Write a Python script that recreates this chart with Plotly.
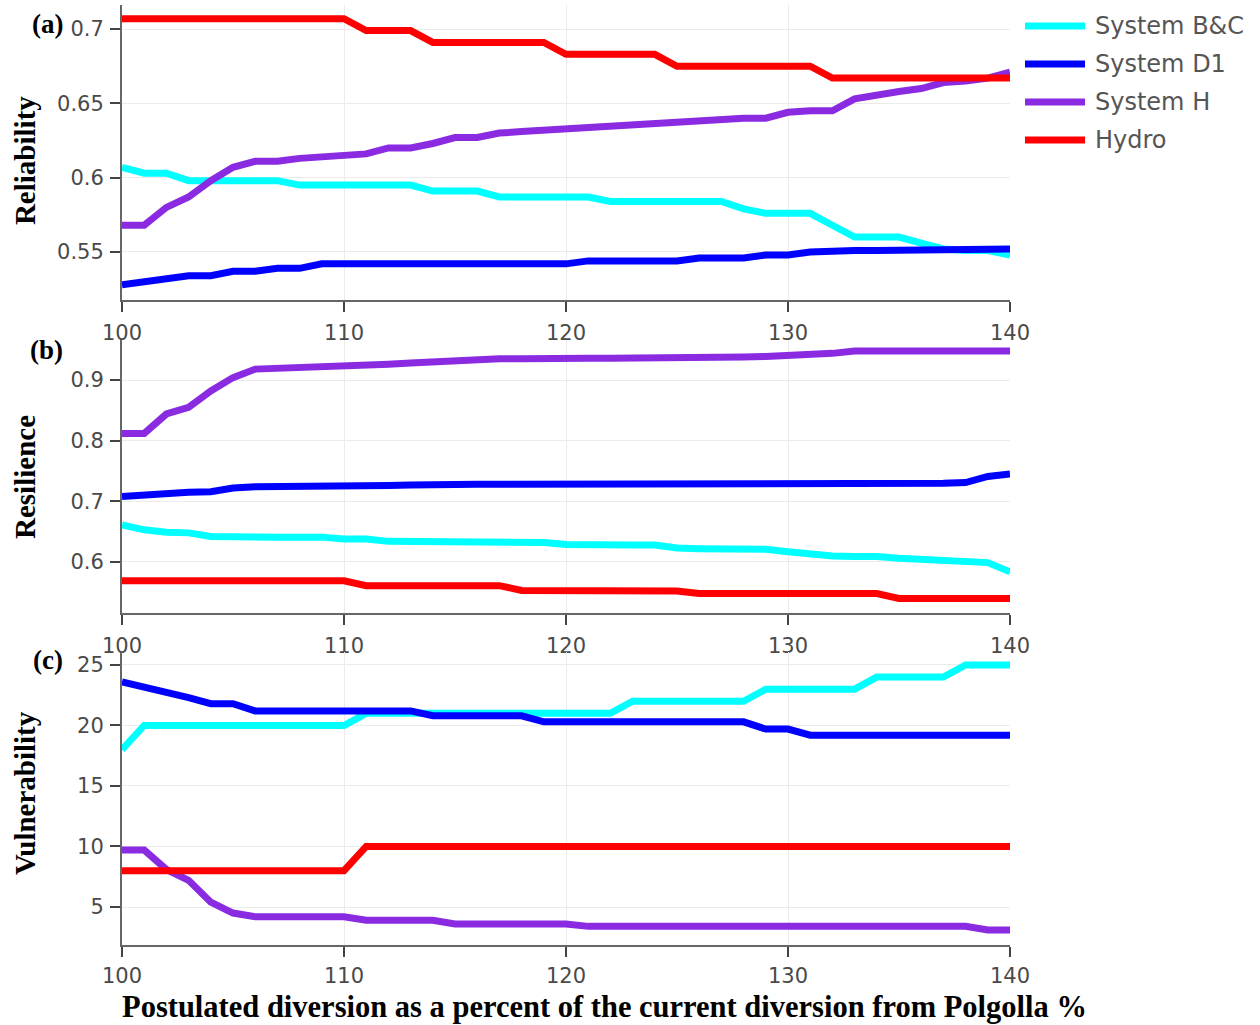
import plotly.graph_objects as go

# Postulated diversion (% of current Polgolla diversion)
diversion = list(range(100, 141))

series_names = ["System B&C", "System D1", "System H", "Hydro"]
series_colors = ["#00FFFF", "#0000FF", "#8A2BE2", "#FF0000"]

# (a) Reliability
rel_bc = [0.607, 0.603, 0.603, 0.598, 0.598, 0.598, 0.598, 0.598, 0.595, 0.595,
          0.595, 0.595, 0.595, 0.595, 0.591, 0.591, 0.591, 0.587, 0.587, 0.587,
          0.587, 0.587, 0.584, 0.584, 0.584, 0.584, 0.584, 0.584, 0.579, 0.576,
          0.576, 0.576, 0.568, 0.560, 0.560, 0.560, 0.556, 0.552, 0.551, 0.551,
          0.548]
rel_d1 = [0.528, 0.530, 0.532, 0.534, 0.534, 0.537, 0.537, 0.539, 0.539, 0.542,
          0.542, 0.542, 0.542, 0.542, 0.542, 0.542, 0.542, 0.542, 0.542, 0.542,
          0.542, 0.544, 0.544, 0.544, 0.544, 0.544, 0.546, 0.546, 0.546, 0.548,
          0.548, 0.550, 0.551, 0.551, 0.551, 0.551, 0.551, 0.551, 0.552, 0.552,
          0.552]
rel_h = [0.568, 0.568, 0.580, 0.587, 0.598, 0.607, 0.611, 0.611, 0.613, 0.614,
         0.615, 0.616, 0.620, 0.620, 0.623, 0.627, 0.627, 0.630, 0.631, 0.632,
         0.633, 0.634, 0.635, 0.636, 0.637, 0.638, 0.639, 0.640, 0.640, 0.640,
         0.644, 0.645, 0.645, 0.653, 0.656, 0.658, 0.660, 0.664, 0.665, 0.667,
         0.671]
rel_hydro = [0.707] * 11 + [0.699] * 3 + [0.691] * 6 + [0.683] * 5 + [0.675] * 7 + [0.667] * 9

# (b) Resilience
res_bc = [0.661, 0.653, 0.649, 0.648, 0.642, 0.641, 0.641, 0.641, 0.641, 0.641,
          0.638, 0.638, 0.634, 0.634, 0.633, 0.633, 0.633, 0.633, 0.633, 0.632,
          0.629, 0.628, 0.628, 0.628, 0.628, 0.623, 0.622, 0.622, 0.621, 0.621,
          0.617, 0.613, 0.610, 0.609, 0.609, 0.606, 0.604, 0.602, 0.601, 0.599,
          0.584]
res_d1 = [0.708, 0.711, 0.713, 0.715, 0.716, 0.722, 0.724, 0.724, 0.724, 0.725,
          0.725, 0.726, 0.726, 0.727, 0.728, 0.728, 0.728, 0.728, 0.728, 0.728,
          0.729, 0.729, 0.729, 0.729, 0.729, 0.729, 0.729, 0.729, 0.729, 0.729,
          0.730, 0.730, 0.730, 0.730, 0.730, 0.730, 0.730, 0.730, 0.731, 0.741,
          0.745]
res_h = [0.812, 0.812, 0.844, 0.855, 0.882, 0.904, 0.918, 0.919, 0.920, 0.921,
         0.922, 0.924, 0.926, 0.928, 0.930, 0.933, 0.935, 0.935, 0.935, 0.936,
         0.936, 0.936, 0.936, 0.936, 0.937, 0.937, 0.937, 0.938, 0.938, 0.939,
         0.940, 0.941, 0.944, 0.948, 0.948, 0.948, 0.948, 0.948, 0.948, 0.948,
         0.948]
res_hydro = [0.569] * 11 + [0.561] * 7 + [0.553] * 7 + [0.552] + [0.548] * 9 + [0.540] * 6

# (c) Vulnerability
vul_bc = [18] + [20] * 10 + [21] * 12 + [22] * 6 + [23] * 5 + [24] * 4 + [25] * 3
vul_d1 = [23.6, 23.2, 22.8, 22.3, 21.8, 21.8] + [21.2] * 8 + [20.8] * 5 + [20.3] * 10 + [19.7] * 2 + [19.2] * 10
vul_h = [9.7, 9.7, 8.1, 7.2, 5.4, 4.5] + [4.2] * 5 + [3.9] * 4 + [3.6] * 6 + [3.4] * 18 + [3.1] * 2
vul_hydro = [8] * 11 + [10] * 30

panels = [
    ("Reliability", "(a)", [rel_bc, rel_d1, rel_h, rel_hydro]),
    ("Resilience", "(b)", [res_bc, res_d1, res_h, res_hydro]),
    ("Vulnerability", "(c)", [vul_bc, vul_d1, vul_h, vul_hydro]),
]

domains = [[0.6862, 1.0], [0.3532, 0.6436], [0.0, 0.3117]]
y_ranges = [[0.5177, 0.7162], [0.5159, 0.966], [1.86, 26.07]]
y_dticks = [0.05, 0.1, 5]
x_standoffs = [3, 3, 1]

fig = go.Figure()
for i, (title, tag, values) in enumerate(panels):
    sfx = "" if i == 0 else str(i + 1)
    for name, color, ys in zip(series_names, series_colors, values):
        fig.add_trace(go.Scatter(
            x=diversion, y=ys, mode="lines", name=name,
            line=dict(color=color, width=7),
            xaxis="x" + sfx, yaxis="y" + sfx, showlegend=False,
        ))

tick_font = dict(family="DejaVu Sans", size=21, color="#4a4a4a")
title_font = dict(family="Liberation Serif", size=29, color="black", weight="bold")
tag_font = dict(family="Liberation Serif", size=27, color="black", weight="bold")
xtitle_font = dict(family="Liberation Serif", size=30.5, color="black", weight="bold")

layout = dict(
    width=1260, height=1025,
    margin=dict(l=122, r=250, t=5, b=80),
    paper_bgcolor="white", plot_bgcolor="white",
    showlegend=False,
)
for i in range(3):
    sfx = "" if i == 0 else str(i + 1)
    layout["xaxis" + sfx] = dict(
        domain=[0, 1], anchor="y" + sfx, range=[100, 140],
        tickvals=[100, 110, 120, 130, 140], ticks="outside", ticklen=10,
        tickcolor="#444", tickwidth=2, showline=True, linecolor="#666",
        linewidth=2, showgrid=True, gridcolor="#ebebeb", gridwidth=1,
        zeroline=False, tickfont=tick_font, ticklabelstandoff=x_standoffs[i],
    )
    layout["yaxis" + sfx] = dict(
        domain=domains[i], anchor="x" + sfx, range=y_ranges[i],
        dtick=y_dticks[i], tick0=0, ticks="outside", ticklen=10,
        tickcolor="#444", tickwidth=2, showline=True, linecolor="#666",
        linewidth=2, showgrid=True, gridcolor="#ebebeb", gridwidth=1,
        zeroline=False, tickfont=tick_font, ticklabelstandoff=2,
    )
fig.update_layout(**layout)

# Panel tags and rotated y titles
title_centers = [0.834, 0.4979, 0.1617]
tag_y = [0.9798, 0.6330, 0.3037]
for i, (title, tag, _) in enumerate(panels):
    fig.add_annotation(
        text=title, xref="paper", yref="paper", x=-0.1092, y=title_centers[i],
        textangle=-90, showarrow=False, font=title_font,
        xanchor="center", yanchor="middle",
    )
    fig.add_annotation(
        text=tag, xref="paper", yref="paper", x=-0.064, y=tag_y[i],
        showarrow=False, font=tag_font, xanchor="right", yanchor="middle",
    )

fig.add_annotation(
    text="Postulated diversion as a percent of the current diversion from Polgolla %",
    xref="paper", yref="paper", x=0.543, y=-0.066, showarrow=False,
    font=xtitle_font, xanchor="center", yanchor="middle",
)

# Legend drawn as line swatches with labels at the upper right
legend_y = [0.9777, 0.9372, 0.8968, 0.8564]
for name, color, ly in zip(series_names, series_colors, legend_y):
    fig.add_shape(type="line", xref="paper", yref="paper",
                  x0=1.0169, x1=1.0845, y0=ly, y1=ly,
                  line=dict(color=color, width=7))
    fig.add_annotation(text=name, xref="paper", yref="paper", x=1.0935, y=ly,
                       showarrow=False, xanchor="left", yanchor="middle",
                       font=dict(family="DejaVu Sans", size=24, color="#555"))

fig.write_html("out.html")
